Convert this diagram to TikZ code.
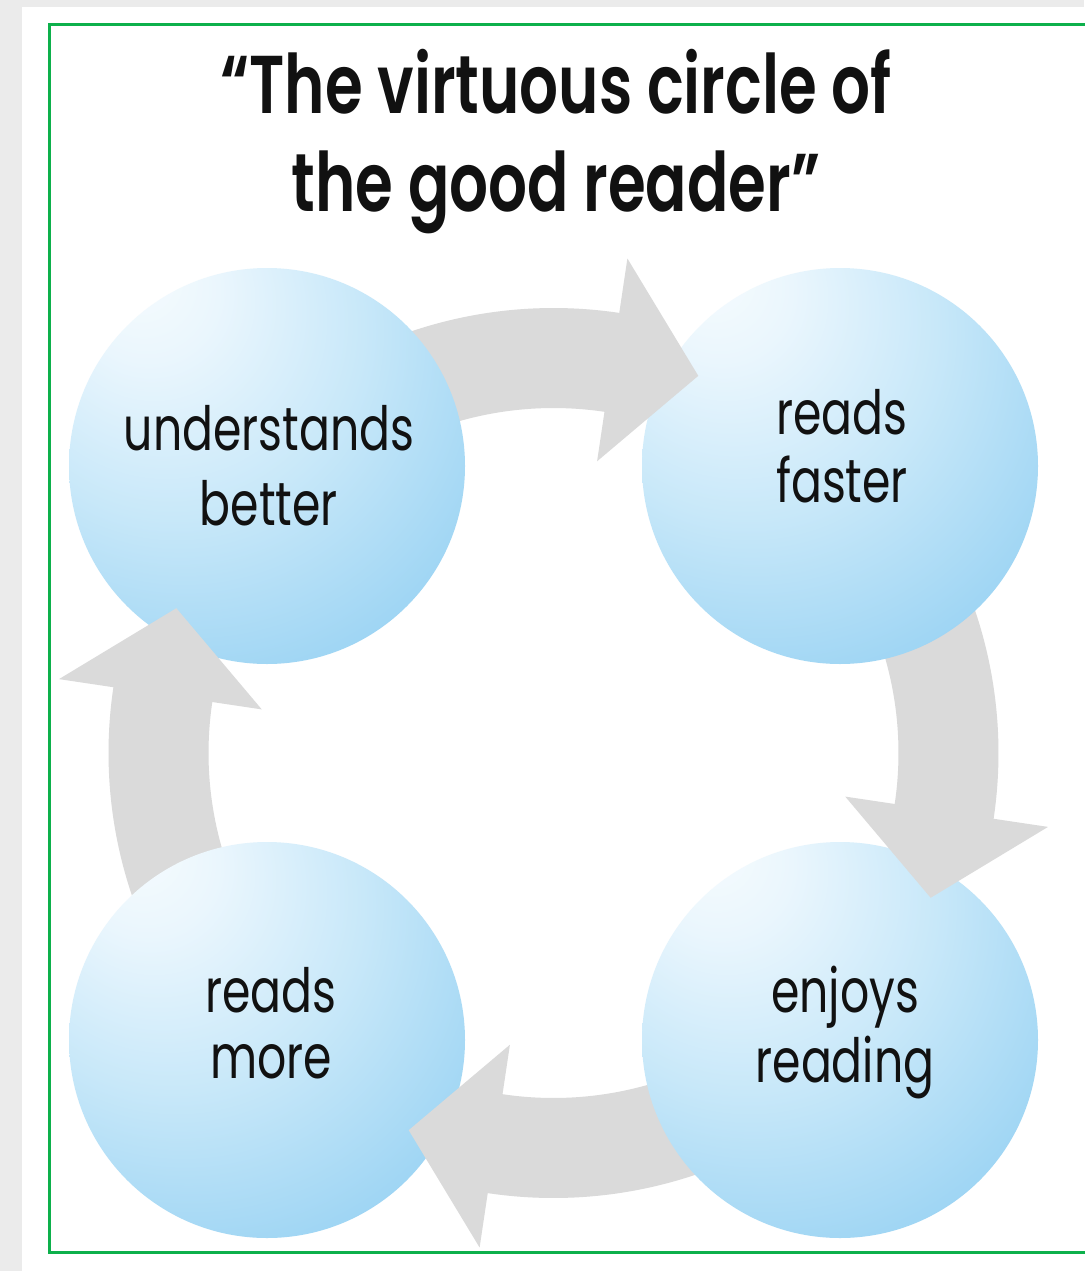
\documentclass[tikz,border=0pt]{standalone}
\usepackage{fontspec}
\usetikzlibrary{calc}
\IfFontExistsTF{Poppins SemiBold}
  {\newfontfamily\titlefont{Poppins SemiBold}[FakeStretch=0.745]}
  {\newfontfamily\titlefont{Poppins}[FakeStretch=0.745,FakeBold=1.5]}
\newfontfamily\labelfont{Poppins}[FakeStretch=0.75]
\definecolor{outerbg}{HTML}{EBEBEB}
\definecolor{framegreen}{HTML}{0DB04B}
\definecolor{arrowgray}{HTML}{DADADA}
\definecolor{txt}{HTML}{111111}
\definecolor{bA}{HTML}{F7FCFE}
\definecolor{bB}{HTML}{EAF6FD}
\definecolor{bC}{HTML}{C8E8F9}
\definecolor{bD}{HTML}{9AD3F3}
\definecolor{bE}{HTML}{74C4EE}
\definecolor{bF}{HTML}{55B5E7}
\pgfdeclareradialshading{bubbleshade}{\pgfpoint{-17bp}{25bp}}{%
  color(0bp)=(bA); color(9bp)=(bB); color(24bp)=(bC); color(42bp)=(bD); color(60bp)=(bE); color(80bp)=(bF)}
\begin{document}
\begin{tikzpicture}[x=1pt,y=1pt,
  bubblenode/.style={circle, minimum size=396pt, inner sep=0pt, shading=bubbleshade},
  lbl/.style={align=center, inner sep=0pt, text=txt},
  arrowfill/.style={fill=arrowgray}]
\useasboundingbox (0,0) rectangle (1084,-1271);
\fill[outerbg] (0,0) rectangle (1084,-1271);
\fill[white] (22,-7) rectangle (1084,-1271);
\draw[framegreen, line width=3.2pt] (49.5,-24.5) rectangle (1100,-1252.5);

\coordinate (C) at (553.5,-753);

% bands (tails hidden under circles)
\begin{scope}[shift={(C)}]
\foreach \b in {81.5,-8.5,-98.5,171.5}{
  \fill[arrowfill] ({\b+40}:445pt) arc[start angle={\b+40}, end angle={\b-1}, radius=445pt]
     -- ({\b-1}:345pt) arc[start angle={\b-1}, end angle={\b+40}, radius=345pt] -- cycle;
}
\end{scope}

% circles
\node[bubblenode] (tl) at (267,-466) {};
\node[bubblenode] (tr) at (840,-466) {};
\node[bubblenode] (br) at (840,-1040) {};
\node[bubblenode] (bl) at (267,-1040) {};

% arrow heads
\begin{scope}[shift={(C)}]
\foreach \b in {81.5,-8.5,-98.5,171.5}{
  \fill[arrowfill] (\b:295pt) -- (\b:500pt) -- ({\b-12.5}:404pt) -- cycle;
}
\end{scope}

% texts
\node[lbl, font=\titlefont\fontsize{82}{98}\selectfont] (title) at (556,-142)
  {“The virtuous circle of\\the good reader”};
\node[lbl, font=\labelfont\fontsize{61}{75}\selectfont] (ltl) at (269,-466) {understands\\better};
\node[lbl, font=\labelfont\fontsize{61}{68}\selectfont] (ltr) at (842,-446) {reads\\faster};
\node[lbl, font=\labelfont\fontsize{61}{66}\selectfont] (lbl) at (271,-1023) {reads\\more};
\node[lbl, font=\labelfont\fontsize{61}{70}\selectfont] (lbr) at (845,-1033) {enjoys\\reading};
\end{tikzpicture}
\end{document}
